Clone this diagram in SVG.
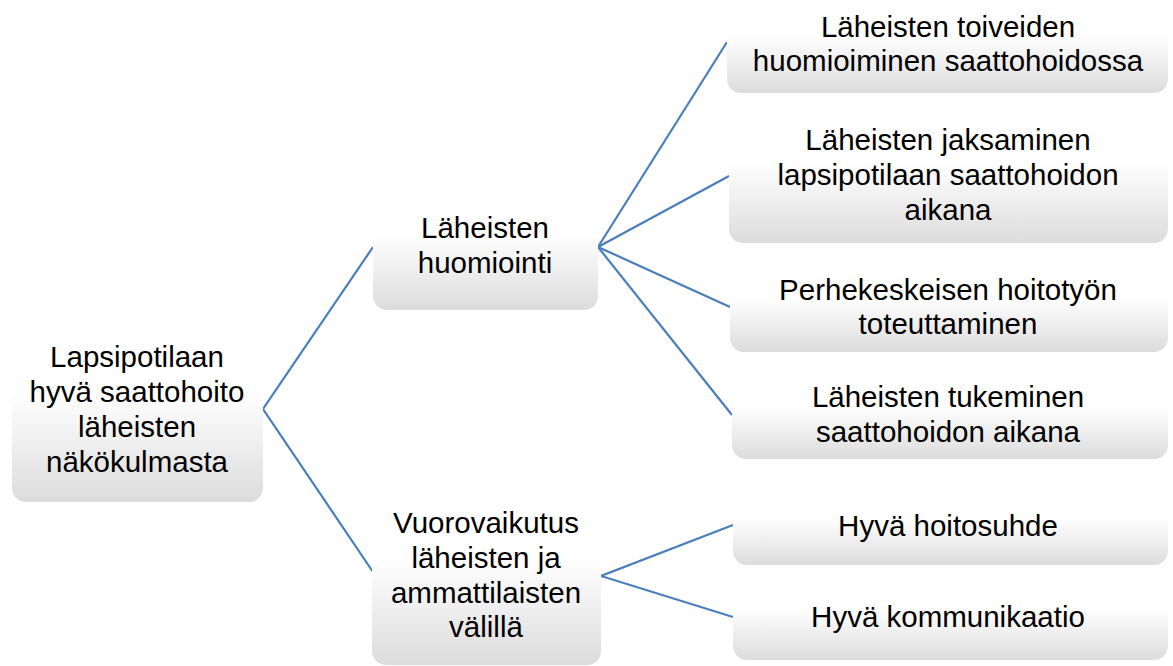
<svg xmlns="http://www.w3.org/2000/svg" width="1173" height="666" viewBox="0 0 1173 666">
<defs>
<linearGradient id="g" x1="0" y1="0" x2="0" y2="1">
<stop offset="0" stop-color="#ffffff"/>
<stop offset="0.4" stop-color="#ffffff"/>
<stop offset="1" stop-color="#dcdcdc"/>
</linearGradient>
</defs>
<style>
.box{fill:url(#g);}
text{font-family:"Liberation Sans",Arial,sans-serif;font-size:29.5px;fill:#000;text-anchor:middle;}
.c{fill:none;stroke:#4a7ebb;stroke-width:2.2;}
</style>
<rect width="1173" height="666" fill="#fff"/>
<g id="connectors">
<polyline class="c" points="373,247 263,409 373,572"/>
<line class="c" x1="598" y1="247" x2="727" y2="42"/>
<line class="c" x1="598" y1="247" x2="729" y2="176"/>
<line class="c" x1="598" y1="247" x2="730" y2="307"/>
<line class="c" x1="598" y1="247" x2="732" y2="415"/>
<polyline class="c" points="733,525 601,576 733,617"/>
</g>
<g id="root">
<rect class="box" x="12" y="318" width="251" height="184" rx="14"/>
<text x="137" y="367">Lapsipotilaan</text>
<text x="137" y="402">hyvä saattohoito</text>
<text x="137" y="437">läheisten</text>
<text x="137" y="472">näkökulmasta</text>
</g>
<g id="n1">
<rect class="box" x="373" y="186" width="225" height="124" rx="14"/>
<text x="485" y="238">Läheisten</text>
<text x="485" y="273">huomiointi</text>
</g>
<g id="n2">
<rect class="box" x="372" y="489" width="229" height="176" rx="14"/>
<text x="486" y="533">Vuorovaikutus</text>
<text x="486" y="568">läheisten ja</text>
<text x="486" y="603">ammattilaisten</text>
<text x="486" y="637">välillä</text>
</g>
<g id="c1">
<rect class="box" x="727" y="-4" width="441" height="97" rx="14"/>
<text x="948" y="37">Läheisten toiveiden</text>
<text x="948" y="71">huomioiminen saattohoidossa</text>
</g>
<g id="c2">
<rect class="box" x="729" y="109" width="439" height="134" rx="14"/>
<text x="948" y="150">Läheisten jaksaminen</text>
<text x="948" y="185">lapsipotilaan saattohoidon</text>
<text x="948" y="220">aikana</text>
</g>
<g id="c3">
<rect class="box" x="730" y="262" width="438" height="90" rx="14"/>
<text x="948" y="300">Perhekeskeisen hoitotyön</text>
<text x="948" y="334">toteuttaminen</text>
</g>
<g id="c4">
<rect class="box" x="732" y="371" width="436" height="88" rx="14"/>
<text x="948" y="407">Läheisten tukeminen</text>
<text x="948" y="442">saattohoidon aikana</text>
</g>
<g id="c5">
<rect class="box" x="733" y="487" width="435" height="78" rx="14"/>
<text x="948" y="536">Hyvä hoitosuhde</text>
</g>
<g id="c6">
<rect class="box" x="733" y="574" width="435" height="86" rx="14"/>
<text x="948" y="627">Hyvä kommunikaatio</text>
</g>
</svg>
